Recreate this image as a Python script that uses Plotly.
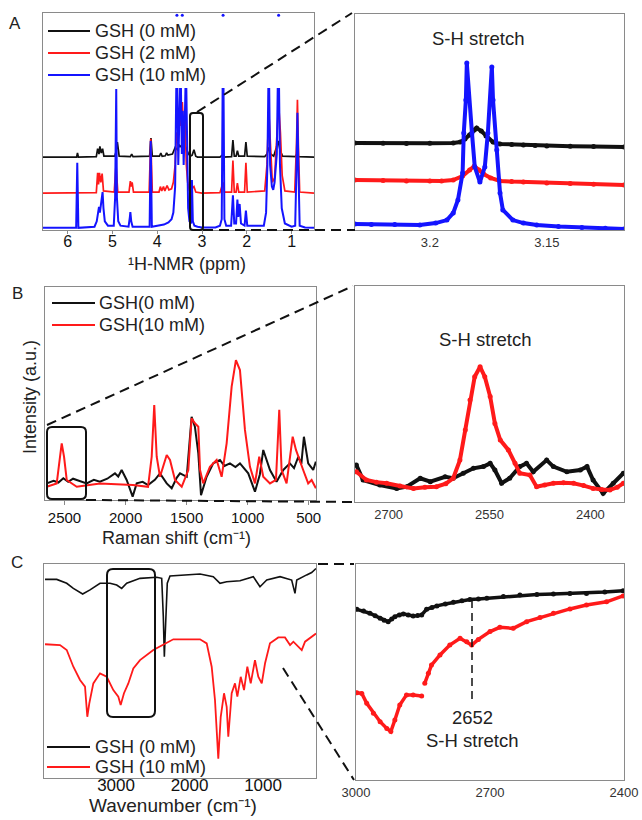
import plotly.graph_objects as go

W, H = 642, 820
FONT = "Arial, Liberation Sans, sans-serif"

# ---------------- Panel A: 1H-NMR ----------------
nmr_ppm_black = [6.55, 5.80, 5.78, 5.76, 5.36, 5.33, 5.30, 5.28, 5.25, 5.22, 5.19, 4.95, 4.92, 4.89, 4.85,
                 4.60, 4.57, 4.54, 4.17, 4.14, 4.11, 3.95, 3.92, 3.89, 3.82, 3.79, 3.76, 3.66, 3.60, 3.55,
                 3.50, 3.45, 3.40, 3.35, 3.30, 3.26, 3.22, 3.18, 3.14, 3.10, 3.00, 2.60, 2.55, 2.52, 2.34,
                 2.31, 2.28, 2.24, 2.21, 2.18, 2.05, 2.02, 1.99, 1.60, 1.55, 1.51, 1.47, 1.40, 1.34, 1.30,
                 1.26, 1.20, 0.92, 0.88, 0.84, 0.50]
nmr_black = [33.6, 33.6, 35.5, 33.6, 33.8, 37.5, 35.0, 38.5, 35.5, 37.5, 34.0, 34.0, 36.0, 40.5, 34.0,
             33.8, 35.0, 33.8, 34.0, 42.4, 34.0, 34.0, 35.5, 34.0, 34.2, 35.5, 34.5, 35.0, 38.0, 37.0,
             39.0, 38.0, 40.0, 37.0, 35.0, 34.0, 34.5, 37.0, 34.0, 33.6, 33.6, 33.6, 34.5, 33.6, 33.8,
             41.5, 34.0, 34.0, 36.5, 34.0, 34.0, 40.5, 34.0, 33.8, 35.0, 38.0, 35.0, 34.0, 38.0, 41.0,
             37.0, 34.0, 33.8, 35.0, 33.8, 33.6]

nmr_ppm_red = [6.55, 5.36, 5.33, 5.31, 5.29, 5.26, 5.23, 5.20, 4.96, 4.92, 4.88, 4.63, 4.60, 4.58, 4.56,
               4.53, 4.18, 4.145, 4.11, 3.96, 3.93, 3.90, 3.86, 3.83, 3.78, 3.74, 3.68, 3.64, 3.60, 3.57,
               3.54, 3.50, 3.47, 3.44, 3.41, 3.38, 3.35, 3.32, 3.28, 3.22, 3.18, 3.14, 3.00, 2.60, 2.57,
               2.53, 2.50, 2.34, 2.31, 2.28, 2.24, 2.21, 2.18, 2.05, 2.02, 1.99, 1.60, 1.55, 1.51, 1.47,
               1.43, 1.38, 1.33, 1.29, 1.25, 1.21, 1.15, 0.93, 0.89, 0.87, 0.85, 0.82, 0.50]
nmr_red = [17.0, 17.2, 26.3, 21.0, 26.3, 22.0, 26.0, 18.0, 17.5, 30.0, 17.5, 17.5, 22.5, 20.0, 22.0,
           17.5, 17.5, 42.0, 17.5, 17.5, 20.0, 18.0, 20.0, 18.0, 20.5, 18.5, 19.0, 22.0, 30.0, 45.0,
           40.0, 55.0, 48.0, 59.0, 45.0, 52.0, 30.0, 22.0, 18.0, 19.0, 20.0, 17.5, 17.0, 17.2, 19.0,
           22.0, 17.5, 17.5, 32.0, 17.5, 17.5, 21.6, 17.5, 17.5, 31.0, 17.5, 18.0, 30.0, 55.0, 35.0,
           22.0, 24.0, 40.0, 58.0, 45.0, 25.0, 18.0, 17.5, 40.0, 60.0, 40.0, 17.5, 17.0]

nmr_ppm_blue = [6.55, 5.81, 5.785, 5.76, 5.40, 5.35, 5.32, 5.30, 5.28, 5.25, 5.22, 5.20, 5.17, 5.10, 4.97,
                4.94, 4.93, 4.915, 4.90, 4.87, 4.82, 4.64, 4.61, 4.60, 4.58, 4.55, 4.17, 4.145, 4.12, 3.95,
                3.85, 3.75, 3.68, 3.64, 3.60, 3.575, 3.55, 3.53, 3.51, 3.49, 3.47, 3.45, 3.43, 3.41, 3.39,
                3.37, 3.35, 3.33, 3.31, 3.28, 3.245, 3.225, 3.205, 3.17, 3.10, 3.00, 2.70, 2.60, 2.56, 2.54,
                2.52, 2.50, 2.46, 2.35, 2.31, 2.28, 2.24, 2.21, 2.19, 2.16, 2.13, 2.05, 2.02, 1.99, 1.62,
                1.57, 1.54, 1.52, 1.50, 1.48, 1.44, 1.41, 1.38, 1.33, 1.31, 1.28, 1.26, 1.22, 1.15, 1.00,
                0.92, 0.89, 0.87, 0.85, 0.82, 0.70, 0.50]
nmr_blue = [1.0, 1.0, 31.0, 1.0, 1.5, 4.0, 8.0, 10.6, 8.0, 12.0, 17.5, 10.0, 4.0, 2.0, 2.0,
            15.0, 65.0, 65.0, 15.0, 4.0, 2.0, 1.5, 6.0, 8.3, 4.0, 1.5, 1.5, 41.0, 1.5, 2.0,
            2.5, 3.5, 5.0, 8.0, 20.0, 65.0, 65.0, 30.0, 50.0, 65.0, 65.0, 35.0, 55.0, 30.0, 45.0,
            65.0, 65.0, 30.0, 10.0, 4.0, 3.0, 23.0, 4.0, 2.0, 1.5, 1.2, 1.2, 2.0, 5.0, 65.0,
            65.0, 5.0, 2.0, 2.0, 16.0, 3.0, 3.0, 14.0, 6.0, 12.0, 3.0, 2.0, 9.0, 2.0, 2.0,
            8.0, 30.0, 65.0, 65.0, 30.0, 20.0, 18.5, 22.0, 35.0, 65.0, 65.0, 30.0, 10.0, 3.0, 1.5,
            2.0, 30.0, 54.0, 30.0, 2.0, 1.2, 1.0]
nmr_clip_ppm = [3.56, 3.44, 2.53, 1.29]
nmr_clip_val = [99.0, 99.0, 99.0, 99.0]

# zoomed S-H region of the NMR (3.23 - 3.12 ppm)
sh_ppm_black = [3.232, 3.22, 3.21, 3.20, 3.19, 3.187, 3.185, 3.183, 3.181, 3.180, 3.178, 3.176, 3.173, 3.17,
                3.165, 3.16, 3.155, 3.15, 3.14, 3.13, 3.117]
sh_black = [40.3, 40.2, 40.0, 40.2, 40.3, 40.7, 42.1, 44.0, 46.3, 47.2, 45.8, 43.5, 40.7, 39.8,
            39.6, 39.4, 39.1, 38.9, 38.8, 38.7, 38.4]
sh_ppm_red = [3.232, 3.22, 3.21, 3.20, 3.195, 3.19, 3.186, 3.183, 3.181, 3.179, 3.177, 3.174, 3.17, 3.165,
              3.16, 3.15, 3.14, 3.13, 3.117]
sh_red = [23.1, 22.9, 22.7, 22.7, 22.7, 23.1, 25.0, 27.8, 29.6, 27.8, 25.9, 24.1, 22.7, 22.4,
          22.2, 21.8, 21.5, 21.2, 20.8]
sh_ppm_blue = [3.232, 3.225, 3.215, 3.2043, 3.1975, 3.1927, 3.190, 3.188, 3.186, 3.1855, 3.1846, 3.1842,
               3.182, 3.1808, 3.1786, 3.1765, 3.1752, 3.1735, 3.173, 3.1714, 3.170, 3.1688, 3.1645,
               3.160, 3.1543, 3.145, 3.135, 3.125, 3.117]
sh_blue = [2.8, 2.6, 2.5, 2.3, 3.2, 4.6, 7.9, 13.9, 26.4, 44.9, 60.2, 77.3,
           44.9, 29.2, 22.2, 29.2, 44.9, 75.5, 60.2, 37.0, 17.1, 9.3, 4.6,
           3.2, 2.3, 1.6, 1.2, 0.8, 0.5]

# ---------------- Panel B: Raman ----------------
raman_x_red = [2646, 2564, 2537, 2523, 2504, 2482, 2400, 2210, 1939, 1816, 1786, 1765, 1745, 1718, 1663,
               1636, 1595, 1540, 1486, 1459, 1432, 1404, 1390, 1364, 1309, 1254, 1213, 1172, 1131, 1096,
               1063, 1022, 981, 940, 905, 872, 817, 768, 741, 722, 681, 631, 604, 577, 545, 504, 476, 441]
raman_red = [6.2, 7.8, 20.3, 26.6, 20.3, 9.4, 6.2, 7.8, 7.0, 6.2, 20.3, 44.6, 20.3, 10.9, 21.1,
             18.8, 9.4, 6.2, 14.1, 38.4, 36.0, 34.4, 14.1, 7.8, 15.6, 18.8, 10.9, 26.6, 53.2, 65.7,
             61.0, 32.9, 15.6, 7.8, 20.3, 10.9, 7.8, 9.4, 42.3, 14.1, 7.8, 29.7, 23.5, 18.8, 14.1, 7.8, 9.4, 5.5]
raman_x_black = [2646, 2590, 2550, 2510, 2470, 2430, 2400, 2319, 2260, 2210, 2150, 2087, 2060, 2032, 1991,
                 1942, 1909, 1860, 1816, 1760, 1718, 1663, 1622, 1580, 1554, 1499, 1459, 1432, 1404, 1382,
                 1336, 1282, 1227, 1190, 1145, 1100, 1063, 995, 940, 900, 872, 817, 763, 708, 654, 620,
                 585, 560, 539, 504, 463, 441]
raman_black = [7.8, 9.0, 8.2, 10.2, 8.5, 10.0, 9.4, 7.8, 9.5, 8.6, 10.0, 12.5, 11.0, 14.1, 9.4,
               1.6, 7.8, 8.5, 7.0, 9.5, 12.5, 7.8, 5.5, 10.5, 12.5, 10.9, 39.1, 34.4, 21.9, 2.3,
               10.9, 17.2, 18.8, 16.0, 17.2, 15.5, 17.2, 12.5, 3.9, 12.0, 23.5, 14.1, 8.6, 14.1, 17.2, 15.0,
               20.3, 17.0, 29.7, 17.2, 14.1, 18.0]

# zoomed S-H region of the Raman (2750 - 2350 cm-1)
shr_x_red = [2748, 2733, 2718, 2703, 2683, 2663, 2646, 2629, 2615, 2604, 2594, 2586, 2579, 2572, 2564,
             2557, 2549, 2542, 2534, 2522, 2512, 2505, 2490, 2480, 2468, 2455, 2440, 2425, 2410, 2396,
             2383, 2371, 2360, 2351]
shr_red = [14.0, 10.2, 9.2, 8.7, 7.4, 6.3, 6.8, 7.1, 8.5, 11.0, 19.4, 33.3, 47.2, 58.0, 62.6,
           58.0, 48.8, 36.4, 28.7, 24.1, 17.9, 13.3, 12.5, 7.1, 7.9, 8.7, 8.9, 8.7, 7.6, 6.3,
           5.8, 5.6, 6.8, 8.7]
shr_x_black = [2748, 2738, 2713, 2688, 2673, 2653, 2638, 2616, 2604, 2589, 2574, 2559, 2549, 2542, 2532,
               2520, 2505, 2495, 2485, 2465, 2455, 2435, 2415, 2405, 2396, 2381, 2366, 2351]
shr_black = [17.1, 10.2, 7.9, 6.3, 7.1, 11.0, 9.4, 11.7, 11.0, 13.3, 15.6, 16.4, 17.9, 14.8, 8.7,
             11.0, 16.4, 17.9, 14.0, 19.4, 16.4, 14.0, 14.8, 16.4, 10.2, 4.0, 8.7, 13.3]

# ---------------- Panel C: FTIR ----------------
ir_x_black = [3966, 3807, 3671, 3581, 3454, 3354, 3218, 3082, 2991, 2923, 2855, 2674, 2447, 2379, 2357,
              2343, 2325, 2303, 2266, 1858, 1677, 1609, 1586, 1495, 1314, 1133, 1042, 1018, 950, 769,
              611, 566, 542, 407, 339, 280]
ir_black = [92.8, 92.8, 91.0, 88.6, 86.0, 87.9, 91.0, 91.0, 90.2, 88.6, 91.0, 93.3, 93.8, 93.3, 75.4,
            56.7, 72.3, 91.0, 94.4, 95.3, 94.1, 91.7, 91.0, 91.7, 92.2, 94.1, 89.4, 90.2, 92.5, 94.1,
            92.5, 86.3, 92.5, 94.9, 96.0, 97.9]
ir_x_red = [3966, 3762, 3671, 3581, 3490, 3422, 3391, 3364, 3309, 3218, 3127, 3037, 2969, 2937, 2892,
            2833, 2765, 2674, 2493, 2311, 2221, 1858, 1767, 1699, 1654, 1609, 1576, 1531, 1495, 1473,
            1427, 1382, 1350, 1304, 1259, 1214, 1168, 1110, 1065, 1018, 973, 906, 793, 702, 633,
            588, 520, 474, 429, 361, 280]
ir_red = [62.5, 62.1, 59.8, 52.0, 45.8, 42.7, 28.6, 34.8, 44.2, 48.9, 47.3, 41.1, 38.0, 34.1, 39.6,
          44.2, 51.2, 55.1, 59.8, 63.2, 64.8, 64.8, 62.9, 52.0, 36.4, 9.0, 28.6, 39.6, 33.3, 19.3,
          39.6, 44.2, 38.0, 47.3, 41.1, 52.0, 44.2, 55.1, 47.3, 44.2, 53.6, 62.9, 65.7, 65.7, 62.1,
          63.7, 61.4, 59.8, 63.7, 65.3, 67.5]

# zoomed S-H region of the FTIR (3000 - 2400 cm-1)
shi_x_black = [2998, 2983, 2969, 2957, 2946, 2937, 2928, 2920, 2913, 2903, 2894, 2883, 2872, 2862, 2853,
               2842, 2830, 2819, 2800, 2782, 2763, 2745, 2726, 2707, 2670, 2633, 2595, 2558, 2521, 2484,
               2443, 2402]
shi_black = [79.0, 78.2, 77.2, 76.0, 74.9, 74.0, 73.3, 74.5, 75.6, 76.4, 76.9, 76.4, 75.9, 76.1, 76.4,
             79.0, 79.9, 80.6, 81.5, 82.3, 83.0, 83.6, 83.8, 84.1, 84.9, 85.6, 85.9, 86.1, 86.3, 86.4,
             87.0, 87.6]
shi_x_red = [2998, 2987, 2976, 2961, 2946, 2931, 2922, 2913, 2902, 2887, 2872, 2853, None, 2846, 2838,
             2831, 2812, 2790, 2767, 2752, 2741, 2726, 2700, 2678, 2648, 2618, 2588, 2558, 2521, 2484,
             2439, 2402]
shi_red = [40.4, 40.1, 35.5, 30.9, 27.0, 23.9, 22.4, 27.8, 34.7, 39.4, 39.4, 38.9, None, 44.8, 49.4,
           53.2, 57.9, 62.5, 65.6, 64.0, 62.5, 65.1, 68.7, 70.7, 70.2, 73.3, 75.2, 77.2, 79.2, 81.0,
           82.5, 85.2]

legend_labels_A = ["GSH (0 mM)", "GSH (2 mM)", "GSH (10 mM)"]
legend_labels_B = ["GSH(0 mM)", "GSH(10 mM)"]
legend_labels_C = ["GSH (0 mM)", "GSH (10 mM)"]

BLACK, RED, BLUE = "#111111", "#ff1a1a", "#1414ff"


def px(x):
    return x / W


def py(y):
    return 1 - y / H


fig = go.Figure()

# A left
fig.add_trace(go.Scatter(x=nmr_ppm_black, y=nmr_black, mode="lines", line=dict(color=BLACK, width=1.7),
                         name=legend_labels_A[0], xaxis="x", yaxis="y"))
fig.add_trace(go.Scatter(x=nmr_ppm_red, y=nmr_red, mode="lines", line=dict(color=RED, width=1.7),
                         name=legend_labels_A[1], xaxis="x", yaxis="y"))
fig.add_trace(go.Scatter(x=nmr_ppm_blue, y=nmr_blue, mode="lines", line=dict(color=BLUE, width=2),
                         name=legend_labels_A[2], xaxis="x", yaxis="y"))
fig.add_trace(go.Scatter(x=nmr_clip_ppm, y=nmr_clip_val, mode="markers", marker=dict(color=BLUE, size=3),
                         xaxis="x", yaxis="y", cliponaxis=False))
# A right
for xs, ys, c in [(sh_ppm_black, sh_black, BLACK), (sh_ppm_red, sh_red, RED), (sh_ppm_blue, sh_blue, BLUE)]:
    fig.add_trace(go.Scatter(x=xs, y=ys, mode="lines+markers", line=dict(color=c, width=4),
                             marker=dict(color=c, size=5), xaxis="x2", yaxis="y2"))
# B left
fig.add_trace(go.Scatter(x=raman_x_black, y=raman_black, mode="lines", line=dict(color=BLACK, width=2),
                         name=legend_labels_B[0], xaxis="x3", yaxis="y3"))
fig.add_trace(go.Scatter(x=raman_x_red, y=raman_red, mode="lines", line=dict(color=RED, width=2),
                         name=legend_labels_B[1], xaxis="x3", yaxis="y3"))
# B right
for xs, ys, c in [(shr_x_black, shr_black, BLACK), (shr_x_red, shr_red, RED)]:
    fig.add_trace(go.Scatter(x=xs, y=ys, mode="lines+markers", line=dict(color=c, width=4),
                             marker=dict(color=c, size=5), xaxis="x4", yaxis="y4"))
# C left
fig.add_trace(go.Scatter(x=ir_x_black, y=ir_black, mode="lines", line=dict(color=BLACK, width=1.6),
                         name=legend_labels_C[0], xaxis="x5", yaxis="y5"))
fig.add_trace(go.Scatter(x=ir_x_red, y=ir_red, mode="lines", line=dict(color=RED, width=1.8),
                         name=legend_labels_C[1], xaxis="x5", yaxis="y5"))
# C right
for xs, ys, c in [(shi_x_black, shi_black, BLACK), (shi_x_red, shi_red, RED)]:
    fig.add_trace(go.Scatter(x=xs, y=ys, mode="lines+markers", line=dict(color=c, width=3.5),
                             marker=dict(color=c, size=5), connectgaps=False, xaxis="x6", yaxis="y6"))

frame = dict(showline=True, mirror=True, linecolor="#8a8a8a", linewidth=1, showgrid=False, zeroline=False,
             automargin=False)
left_tick = dict(size=16, color="#111", family=FONT)
right_tick = dict(size=13, color="#333", family=FONT)


def xa(dom, rng, anchor, tickvals, font, ticklen=4, standoff=0):
    return dict(domain=dom, range=rng, anchor=anchor, tickmode="array", tickvals=tickvals,
                ticks="outside", ticklen=ticklen, tickcolor="#8a8a8a", tickfont=font,
                ticklabelstandoff=standoff, **frame)


def ya(dom, anchor):
    return dict(domain=dom, range=[0, 100], anchor=anchor, showticklabels=False, ticks="", **frame)


fig.update_layout(
    width=W, height=H, autosize=False,
    margin=dict(l=0, r=0, t=0, b=0, pad=0, autoexpand=False),
    paper_bgcolor="white", plot_bgcolor="white",
    font=dict(family=FONT, color="#111"),
    showlegend=False,
    xaxis=xa([px(43), px(314)], [6.55, 0.5], "y", [6, 5, 4, 3, 2, 1], left_tick, 3, -6),
    yaxis=ya([py(230), py(13)], "x"),
    xaxis2=xa([px(355), px(624)], [3.232, 3.117], "y2", [3.20, 3.15], right_tick, 0),
    yaxis2=ya([py(230), py(14)], "x2"),
    xaxis3=xa([px(45), px(316)], [2660, 440], "y3", [2500, 2000, 1500, 1000, 500],
              dict(size=15, color="#111", family=FONT)),
    yaxis3=ya([py(500), py(287)], "x3"),
    xaxis4=xa([px(355), px(624)], [2750, 2350], "y4", [2700, 2550, 2400], right_tick, 0),
    yaxis4=ya([py(502), py(286)], "x4"),
    xaxis5=xa([px(44), px(316)], [3980, 280], "y5", [3000, 2000, 1000],
              dict(size=17, color="#111", family=FONT), 0, -8),
    yaxis5=ya([py(778), py(564)], "x5"),
    xaxis6=xa([px(356), px(624)], [3000, 2400], "y6", [3000, 2700, 2400], right_tick, 0),
    yaxis6=ya([py(780), py(564)], "x6"),
)


def ann(text, x, y, size=17, angle=0, color="#222", anchor="center"):
    fig.add_annotation(text=text, x=px(x), y=py(y), xref="paper", yref="paper", showarrow=False,
                       xanchor=anchor, yanchor="middle", textangle=angle,
                       font=dict(size=size, family=FONT, color=color))


def dline(x0, y0, x1, y1, dash="10px,6px", width=2, color="#111"):
    fig.add_shape(type="line", x0=px(x0), y0=py(y0), x1=px(x1), y1=py(y1), xref="paper", yref="paper",
                  line=dict(color=color, width=width, dash=dash))


def legend_block(labels, colors, x_line0, x_line1, x_text, ys):
    for lab, col, yy in zip(labels, colors, ys):
        dline(x_line0, yy, x_line1, yy, dash="solid", width=2, color=col)
        ann(lab, x_text, yy, 18, anchor="left")


legend_block(legend_labels_A, [BLACK, RED, BLUE], 48, 90, 93, [31, 53, 75])
legend_block(legend_labels_B, [BLACK, RED], 52, 95, 97, [303, 325])
legend_block(legend_labels_C, [BLACK, RED], 47, 90, 93, [747, 767])

ann("A", 15, 23)
ann("B", 17, 293)
ann("C", 17, 562)
ann("¹H-NMR (ppm)", 187, 264, 18)
ann("Raman shift (cm⁻¹)", 177, 538, 18)
ann("Wavenumber (cm⁻¹)", 173, 805, 19)
ann("Intensity (a.u.)", 30, 397, 18, -90)
ann("S-H stretch", 478, 38, 18.5)
ann("S-H stretch", 485, 340, 18.5)
ann("2652", 472, 717, 18.5)
ann("S-H stretch", 472, 740, 18.5)


def rrect(x0, y0, x1, y1, r=5):
    X0, X1 = px(x0), px(x1)
    Y0, Y1 = py(y0), py(y1)
    rx, ry = r / W, r / H
    path = (f"M{X0 + rx},{Y0} L{X1 - rx},{Y0} Q{X1},{Y0} {X1},{Y0 - ry} L{X1},{Y1 + ry} "
            f"Q{X1},{Y1} {X1 - rx},{Y1} L{X0 + rx},{Y1} Q{X0},{Y1} {X0},{Y1 + ry} "
            f"L{X0},{Y0 - ry} Q{X0},{Y0} {X0 + rx},{Y0} Z")
    fig.add_shape(type="path", path=path, xref="paper", yref="paper",
                  line=dict(color="#111", width=2))


rrect(190, 113, 203, 230, 3)
dline(197, 112, 352, 13)
dline(203, 230, 355, 230)
rrect(47, 427, 86, 499, 5)
dline(47, 425, 353, 286)
dline(86, 500, 355, 502)
rrect(107, 569, 155, 717, 6)
dline(318, 564, 354, 564)
dline(283, 668, 354, 780)
dline(472, 600, 472, 703, dash="8px,5px", width=1.5)

fig.write_html("out.html", config={"displayModeBar": False, "responsive": False},
               post_script="document.body.style.margin='0px';")
